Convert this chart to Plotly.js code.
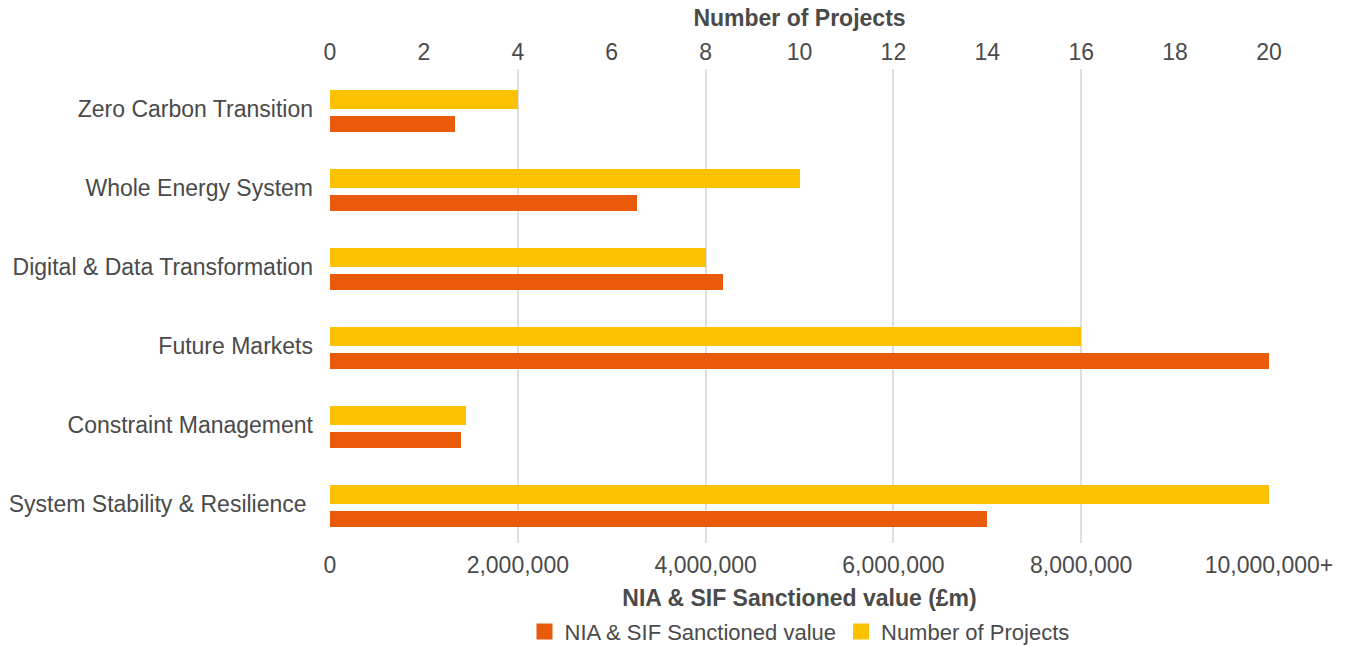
<!DOCTYPE html>
<html>
<head>
<meta charset="utf-8">
<script src="https://cdn.plot.ly/plotly-3.0.1.min.js"></script>
<style>
html,body{margin:0;padding:0;background:#fff;}
#chart{width:1348px;height:646px;}
</style>
</head>
<body>
<div id="chart"></div>
<script>
var categories = ["Zero Carbon Transition", "Whole Energy System", "Digital & Data Transformation", "Future Markets", "Constraint Management", "System Stability & Resilience\u00a0"];
var sanctionedValue = [1330000, 3270000, 4185000, 10000000, 1390000, 7000000];
var numberOfProjects = [4, 10, 8, 16, 2.9, 20];
var valueTickVals = [0, 2000000, 4000000, 6000000, 8000000, 10000000];
var valueTickText = ["0", "2,000,000", "4,000,000", "6,000,000", "8,000,000", "10,000,000+"];
var projectTickVals = [0, 2, 4, 6, 8, 10, 12, 14, 16, 18, 20];
var seriesNames = ["NIA & SIF Sanctioned value", "Number of Projects"];

var FONT = '"Liberation Sans", Arial, Helvetica, sans-serif';
var FS = 23;
var TXT = '#4a4a4a';
var ORANGE = '#E95A0A';
var YELLOW = '#FCC200';

var traces = [
  {
    type: 'bar', orientation: 'h',
    name: seriesNames[0], showlegend: false,
    y: categories, x: sanctionedValue,
    xaxis: 'x', yaxis: 'y',
    marker: {color: ORANGE},
    width: 0.203, offset: 0.095,
    hoverinfo: 'x+y'
  },
  {
    type: 'bar', orientation: 'h',
    name: seriesNames[1], showlegend: false,
    y: categories, x: numberOfProjects,
    xaxis: 'x2', yaxis: 'y',
    marker: {color: YELLOW},
    width: 0.237, offset: -0.234,
    hoverinfo: 'x+y'
  },
  /* legend entries (square swatches) */
  {
    type: 'scatter', mode: 'markers', name: seriesNames[0],
    x: [null], y: [null], xaxis: 'x', yaxis: 'y',
    marker: {symbol: 'square', size: 16, color: ORANGE}, hoverinfo: 'skip'
  },
  {
    type: 'scatter', mode: 'markers', name: seriesNames[1],
    x: [null], y: [null], xaxis: 'x', yaxis: 'y',
    marker: {symbol: 'square', size: 16, color: YELLOW}, hoverinfo: 'skip'
  }
];

var layout = {
  width: 1348, height: 646,
  margin: {l: 330, r: 79, t: 69, b: 103, pad: 0, autoexpand: false},
  paper_bgcolor: '#fff', plot_bgcolor: '#fff',
  font: {family: FONT, color: TXT, size: FS},
  showlegend: true,
  legend: {
    orientation: 'h', x: 0.5, xanchor: 'center', xref: 'paper',
    yref: 'container', y: 0.022, yanchor: 'middle',
    font: {family: FONT, size: 22, color: TXT},
    itemsizing: 'trace', traceorder: 'normal', itemwidth: 30
  },
  xaxis: {
    range: [0, 10000000], tickvals: valueTickVals, ticktext: valueTickText,
    showgrid: true, gridcolor: '#dedede', gridwidth: 1.5,
    zeroline: false, showline: false, ticks: '',
    tickfont: {family: FONT, size: FS, color: TXT},
    ticklabelstandoff: 6,
    title: {text: 'NIA & SIF Sanctioned value (£m)', font: {family: FONT, size: FS, color: TXT, weight: 'bold'}, standoff: 17},
    automargin: false, fixedrange: true
  },
  xaxis2: {
    overlaying: 'x', side: 'top', range: [0, 20], tickvals: projectTickVals,
    showgrid: false, zeroline: false, showline: false, ticks: '',
    tickfont: {family: FONT, size: FS, color: TXT},
    ticklabelstandoff: 3,
    title: {text: 'Number of Projects', font: {family: FONT, size: FS, color: TXT, weight: 'bold'}, standoff: 6},
    automargin: false, fixedrange: true
  },
  yaxis: {
    type: 'category', range: [5.5, -0.5],
    showgrid: false, zeroline: false, showline: false, ticks: '',
    ticklabelstandoff: 16,
    tickfont: {family: FONT, size: FS, color: TXT},
    automargin: false, fixedrange: true
  },
  bargap: 0, hovermode: 'closest'
};

Plotly.newPlot('chart', traces, layout, {displayModeBar: false});
</script>
</body>
</html>
